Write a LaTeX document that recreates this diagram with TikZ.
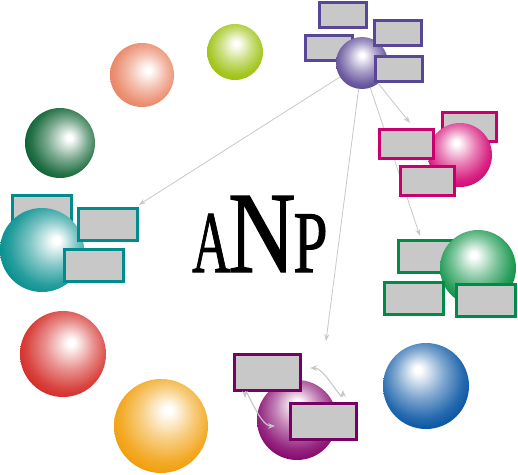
\documentclass[tikz,border=0pt]{standalone}
\usepackage{fontspec}
\setmainfont{Liberation Serif}
\newfontfamily\anpfont[FakeBold=1.2]{Liberation Serif}
\usepackage{graphicx}
\usetikzlibrary{arrows.meta}
\definecolor{boxgray}{RGB}{200,200,200}
\definecolor{linegray}{RGB}{200,200,200}
\definecolor{cPur}{RGB}{85,65,145}
\definecolor{cPurB}{RGB}{90,70,150}
\definecolor{cPink}{RGB}{210,0,110}
\definecolor{cPinkB}{RGB}{200,0,110}
\definecolor{cGrn}{RGB}{0,140,60}
\definecolor{cGrnB}{RGB}{0,140,70}
\definecolor{cTeal}{RGB}{0,140,140}
\definecolor{cTealB}{RGB}{0,140,140}
\definecolor{cMag}{RGB}{130,0,105}
\definecolor{cMagB}{RGB}{120,0,100}
\definecolor{cSal}{RGB}{232,125,90}
\definecolor{cLime}{RGB}{150,190,0}
\definecolor{cDkg}{RGB}{0,90,40}
\definecolor{cRed}{RGB}{210,35,30}
\definecolor{cOra}{RGB}{240,155,0}
\definecolor{cBlue}{RGB}{0,80,160}
\newcommand\defsph[4]{\pgfdeclareradialshading{#1}{\pgfqpoint{#2bp}{#3bp}}{color(0bp)=(white); color(2bp)=(white); color(14bp)=(#4!50!white); color(24bp)=(#4!85!white); color(31bp)=(#4); color(50bp)=(#4!80!black)}}
\defsph{sphSal}{5}{4}{cSal}
\defsph{sphLime}{1}{8}{cLime}
\defsph{sphDkg}{7}{4}{cDkg}
\defsph{sphRed}{5}{7}{cRed}
\defsph{sphOra}{4}{9}{cOra}
\defsph{sphBlue}{-5}{10}{cBlue}
\defsph{sphTeal}{9}{6}{cTeal}
\defsph{sphPur}{0}{8}{cPur}
\defsph{sphPink}{-3}{10}{cPink}
\defsph{sphGrn}{-3}{9}{cGrn}
\defsph{sphMag}{0}{11}{cMag}
\pgfdeclarelayer{bg}
\pgfsetlayers{bg,main}
\tikzset{
  sph/.style={circle, inner sep=0pt, minimum size=#1},
  boxbase/.style={rectangle, inner sep=0pt, fill=boxgray, line width=3pt},
  pbox/.style={boxbase, draw=cPurB, minimum width=47pt, minimum height=25pt},
  kbox/.style={boxbase, draw=cPinkB, minimum width=54pt, minimum height=29pt},
  gbox/.style={boxbase, draw=cGrnB, minimum width=59pt, minimum height=32pt},
  tbox/.style={boxbase, draw=cTealB, minimum width=59pt, minimum height=32pt},
  mbox/.style={boxbase, draw=cMagB, minimum width=66pt, minimum height=36pt},
  link/.style={draw=linegray, line width=0.8pt, -{Stealth[length=7pt,width=5pt]}},
  loopar/.style={draw=linegray, line width=1.1pt, {Stealth[length=7pt,width=5.5pt]}-{Stealth[length=7pt,width=5.5pt]}},
  title/.style={inner sep=0pt, anchor=base west}
}
\begin{document}
\begin{tikzpicture}[x=1pt,y=-1pt]
\useasboundingbox (0,0) rectangle (518,474);
% plain spheres
\node[sph=64pt, shading=sphSal] (ssal) at (142,75) {};
\node[sph=56pt, shading=sphLime] (slime) at (235,52) {};
\node[sph=70pt, shading=sphDkg] (sdkg) at (60,143) {};
\node[sph=86pt, shading=sphRed] (sred) at (63,354) {};
\node[sph=94pt, shading=sphOra] (sora) at (161,426) {};
\node[sph=86pt, shading=sphBlue] (sblue) at (426,386) {};
% purple group
\node[pbox] (pb1) at (342.5,14.5) {};
\node[pbox] (pb3) at (328.5,47.5) {};
\node[sph=52pt, shading=sphPur] (psph) at (362,63) {};
\node[pbox] (pb2) at (398,33) {};
\node[pbox] (pb4) at (398.5,69) {};
% pink group
\node[kbox] (kb2) at (469.5,127) {};
\node[sph=64pt, shading=sphPink] (ksph) at (460,155) {};
\node[kbox] (kb1) at (406.5,144) {};
\node[kbox] (kb3) at (427.5,181) {};
% green group
\node[gbox] (gb1) at (427.5,256) {};
\node[sph=76pt, shading=sphGrn] (gsph) at (478,268) {};
\node[gbox] (gb2) at (414,298) {};
\node[gbox] (gb3) at (485.5,300.5) {};
% teal group
\node[tbox] (tb1) at (42,211.5) {};
\node[sph=84pt, shading=sphTeal] (tsph) at (42,250) {};
\node[tbox] (tb2) at (108,224.5) {};
\node[tbox] (tb3) at (94,265) {};
% magenta group
\node[sph=80pt, shading=sphMag] (msph) at (297,420) {};
\node[mbox] (mb1) at (267,372) {};
\node[mbox] (mb2) at (323.5,421) {};
% ANP
\node[title] (anp) at (192,272) {\anpfont\fontsize{88}{88}\selectfont\scalebox{0.6}[1]{A}\kern-2pt\fontsize{116}{116}\selectfont\scalebox{0.8}[1]{N}\kern-2pt\fontsize{88}{88}\selectfont\scalebox{0.7}[1]{P}};
% connectors
\coordinate (mtip) at (326,341);
\coordinate (ktip) at (410,123);
\coordinate (gtip) at (420,236);
\begin{pgfonlayer}{bg}
\draw[link, shorten >=4pt] (psph) -- (tb2);
\draw[link] (psph) -- (mtip);
\draw[link] (psph) -- (ktip);
\draw[link] (psph) -- (gtip);
\end{pgfonlayer}
\coordinate (l1a) at (310,368);
\coordinate (l1b) at (343,390);
\coordinate (l2a) at (245,398);
\coordinate (l2b) at (275,426);
\draw[loopar] (l1a) to[out=0, in=-90] (l1b);
\draw[loopar] (l2a) to[out=90, in=180] (l2b);
\end{tikzpicture}
\end{document}
